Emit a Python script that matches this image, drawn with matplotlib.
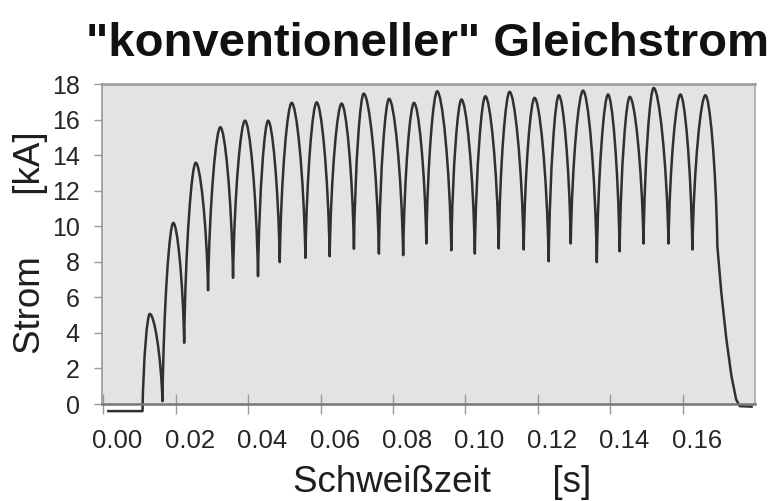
import matplotlib
matplotlib.use("Agg")
import numpy as np
import matplotlib.pyplot as plt
import matplotlib.transforms as mtransforms
from matplotlib.path import Path
from matplotlib.patches import PathPatch

plt.rcParams['font.family'] = ['Liberation Sans', 'DejaVu Sans']

#------------ VALUES (time in s, current in kA) ------------
head_t = [0.0010, 0.0108]
head_i = [-0.40, -0.40]

peak_t = [0.0128, 0.0193, 0.0255, 0.0323, 0.0391, 0.0455, 0.0520, 0.0589,
          0.0658, 0.0719, 0.0789, 0.0858, 0.0922, 0.0989, 0.1055, 0.1122,
          0.1191, 0.1258, 0.1325, 0.1394, 0.1454, 0.1520, 0.1594, 0.1663]
peak_i = [5.07, 10.19, 13.57, 15.57, 15.94, 15.94, 16.94, 16.97,
          16.90, 17.46, 17.17, 16.94, 17.59, 17.13, 17.31, 17.56,
          17.22, 17.37, 17.63, 17.41, 17.28, 17.78, 17.41, 17.37]

trough_t = [0.0163, 0.0223, 0.0289, 0.0358, 0.0427, 0.0487, 0.0558, 0.0625,
            0.0692, 0.0761, 0.0828, 0.0892, 0.0961, 0.1026, 0.1092, 0.1161,
            0.1230, 0.1291, 0.1363, 0.1426, 0.1492, 0.1561, 0.1627]
trough_i = [0.16, 3.44, 6.40, 7.10, 7.19, 7.98, 8.22, 8.31,
            8.73, 8.46, 8.37, 9.03, 8.65, 8.46, 8.75, 8.69,
            8.03, 9.03, 7.98, 8.59, 9.03, 9.03, 8.69]

tail_t = [0.1696, 0.1707, 0.1721, 0.1735, 0.1748, 0.1758, 0.1794]
tail_i = [8.88, 6.25, 3.63, 1.56, 0.25, -0.12, -0.15]

x_ticks = [0.00, 0.02, 0.04, 0.06, 0.08, 0.10, 0.12, 0.14, 0.16]
y_ticks = [0, 2, 4, 6, 8, 10, 12, 14, 16, 18]


#------------ BUILD THE CURVE (arches with cusps at the troughs) ------------
def arch(p0, p1, going_up, arm=0.34, steep=0.12, lift=0.55):
    dt = p1[0] - p0[0]
    dI = p1[1] - p0[1]
    if going_up:
        c1 = (p0[0] + steep * dt, p0[1] + lift * dI)
        c2 = (p1[0] - arm * dt, p1[1])
    else:
        c1 = (p0[0] + arm * dt, p0[1])
        c2 = (p1[0] - steep * dt, p1[1] - lift * dI)
    return [c1, c2, p1]


seq = [(head_t[-1], head_i[-1])]
for k in range(len(peak_t)):
    seq.append((peak_t[k], peak_i[k]))
    if k < len(trough_t):
        seq.append((trough_t[k], trough_i[k]))
seq.append((tail_t[0], tail_i[0]))

verts = [(head_t[0], head_i[0]), (head_t[1], head_i[1])]
codes = [Path.MOVETO, Path.LINETO]
for a, b in zip(seq[:-1], seq[1:]):
    verts += arch(a, b, b[1] > a[1])
    codes += [Path.CURVE4] * 3
for t, i in zip(tail_t[1:], tail_i[1:]):
    verts.append((t, i))
    codes.append(Path.LINETO)


#------------ PLOTTING ------------
fig = plt.figure(figsize=(7.75, 5.01), dpi=100)
ax = fig.add_axes([102 / 775, 1 - 404 / 501, 653 / 775, 320 / 501])
ax.set_facecolor('#e3e3e3')

curve = PathPatch(Path(verts, codes), facecolor='none', edgecolor='#303030',
                  linewidth=1.8, joinstyle='round', transform=ax.transData,
                  clip_on=False)
ax.add_patch(curve)

ax.set_xlim(-0.0004, 0.1800)
ax.set_ylim(0, 18)
ax.set_xticks(x_ticks)
ax.set_xticklabels([f"{v:.2f}" for v in x_ticks])
ax.set_yticks(y_ticks)

for side, col, w in [('left', '#999999', 1.2), ('bottom', '#777777', 1.8),
                     ('top', '#999999', 1.8), ('right', '#aaaaaa', 1.2)]:
    ax.spines[side].set_color(col)
    ax.spines[side].set_linewidth(w)

ax.tick_params(axis='y', direction='out', length=6, width=1, color='#999999',
               pad=10, labelsize=18, labelcolor='#262626')
ax.tick_params(axis='x', direction='inout', length=14, width=1, color='#999999',
               pad=11, labelsize=18.5, labelcolor='#262626')

# tick labels in the original sit a little right of their ticks
shift = mtransforms.ScaledTranslation(14 / 100, 0, fig.dpi_scale_trans)
for lab in ax.get_xticklabels():
    lab.set_transform(lab.get_transform() + shift)

fig.text(427.5 / 775, 1 - 56 / 501, '"konventioneller" Gleichstrom',
         ha='center', va='baseline', fontsize=34, fontweight='bold', color='#111111')
fig.text(442 / 775, 1 - 492 / 501, 'Schweißzeit      [s]',
         ha='center', va='baseline', fontsize=26.5, color='#1e1e1e')
fig.text(40 / 775, 1 - 242.5 / 501, 'Strom      [kA]', rotation=90,
         rotation_mode='anchor', ha='center', va='baseline', fontsize=26.5,
         color='#1e1e1e')

fig.savefig('out.png', dpi=100)
